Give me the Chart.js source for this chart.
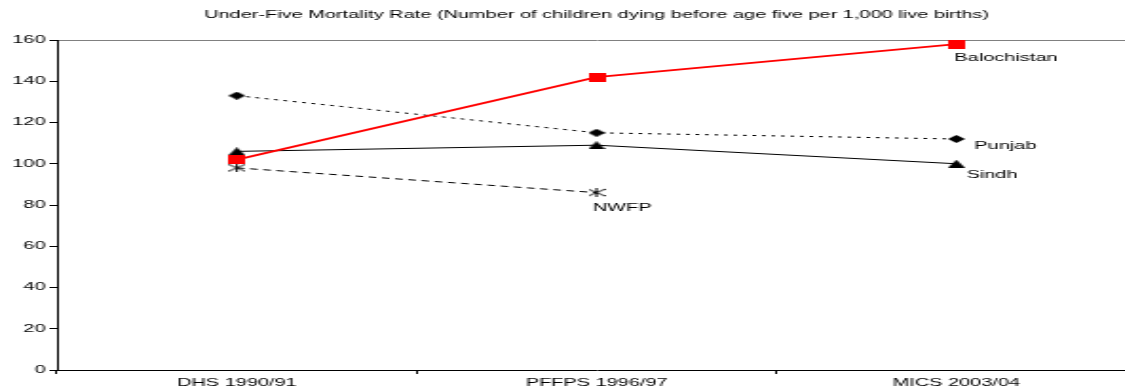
<!DOCTYPE html>
<html>
<head>
<meta charset="utf-8">
<script src="https://cdn.jsdelivr.net/npm/chart.js@4.4.1/dist/chart.umd.min.js"></script>
<style>
  html, body { margin: 0; padding: 0; background: #fff; overflow: hidden; }
  /* the reference picture is stretched sideways, so the chart is drawn narrow and scaled */
  #wrap { width: 604px; height: 391px; transform: scaleX(1.9); transform-origin: 0 0; }
</style>
</head>
<body>
<div id="wrap"><canvas id="myChart" width="604" height="391"></canvas></div>
<script>
// Dados
const categories = ['DHS 1990/91', 'PFFPS 1996/97', 'MICS 2003/04'];
const balochistan = [102, 142, 158];
const punjab = [133, 115, 112];
const sindh = [106, 109, 100];
const nwfp = [98, 86, null];
const seriesNames = ['Balochistan', 'Punjab', 'Sindh', 'NWFP'];
const yMin = 0, yMax = 160, yStep = 20;
const chartTitle = 'Under-Five Mortality Rate (Number of children dying before age five per 1,000 live births)';

// where each name sits: point index, offset from that point
const labelSpots = [
  { idx: 2, dx: -1, dy: 14 },
  { idx: 2, dx: 9.5, dy: 7 },
  { idx: 2, dx: 5.3, dy: 11 },
  { idx: 1, dx: -2, dy: 15 }
];

// marcadores desenhados à mão
function marker(w, h, draw) {
  const c = document.createElement('canvas');
  c.width = w; c.height = h;
  draw(c.getContext('2d'), w, h);
  return c;
}
const squareMk = marker(9, 9, (g, w, h) => { g.fillStyle = '#ff0000'; g.fillRect(0, 0, w, h); });
const diamondMk = marker(9, 8, (g, w, h) => {
  g.fillStyle = '#000'; g.beginPath();
  g.moveTo(w / 2, 0); g.lineTo(w, h / 2); g.lineTo(w / 2, h); g.lineTo(0, h / 2); g.closePath(); g.fill();
});
const triangleMk = marker(9, 8, (g, w, h) => {
  g.fillStyle = '#000'; g.beginPath();
  g.moveTo(w / 2, 0); g.lineTo(w, h); g.lineTo(0, h); g.closePath(); g.fill();
});
const starMk = marker(9, 9, (g, w, h) => {
  g.strokeStyle = '#000'; g.lineWidth = 1; g.beginPath();
  g.moveTo(w / 2, 0); g.lineTo(w / 2, h);
  g.moveTo(0, 1); g.lineTo(w, h - 1);
  g.moveTo(w, 1); g.lineTo(0, h - 1);
  g.stroke();
});

Chart.defaults.font.family = '"Liberation Sans", Arial, sans-serif';
Chart.defaults.font.size = 10.5;
Chart.defaults.color = '#000';

const seriesLabels = {
  id: 'seriesLabels',
  afterDatasetsDraw(chart) {
    const ctx = chart.ctx;
    ctx.save();
    ctx.font = '10.5px "Liberation Sans", Arial, sans-serif';
    ctx.fillStyle = '#000';
    ctx.textAlign = 'left';
    ctx.textBaseline = 'middle';
    labelSpots.forEach((s, i) => {
      const pt = chart.getDatasetMeta(i).data[s.idx];
      ctx.fillText(seriesNames[i], pt.x + s.dx, pt.y + s.dy);
    });
    ctx.restore();
  }
};

const ctx = document.getElementById('myChart');
new Chart(ctx, {
  type: 'line',
  data: {
    labels: categories,
    datasets: [
      { label: seriesNames[0], data: balochistan, borderColor: '#ff0000', borderWidth: 2,
        pointStyle: squareMk },
      { label: seriesNames[1], data: punjab, borderColor: '#000', borderWidth: 1,
        borderDash: [2, 3], pointStyle: diamondMk },
      { label: seriesNames[2], data: sindh, borderColor: '#000', borderWidth: 1,
        pointStyle: triangleMk },
      { label: seriesNames[3], data: nwfp, borderColor: '#000', borderWidth: 1,
        borderDash: [4, 3], pointStyle: starMk }
    ]
  },
  options: {
    responsive: false,
    animation: false,
    devicePixelRatio: 1,
    layout: { padding: { left: 0, right: 2, top: 0, bottom: 0 } },
    elements: { line: { tension: 0, fill: false } },
    plugins: {
      legend: { display: false },
      tooltip: { enabled: false },
      title: {
        display: true,
        text: chartTitle,
        fullSize: false,
        color: '#000',
        font: { size: 10.5, weight: 'normal' },
        padding: { top: 8.7, bottom: 18.7 }
      }
    },
    scales: {
      x: {
        offset: true,
        grid: { offset: true, drawOnChartArea: false, tickLength: 4, tickColor: '#000' },
        border: { color: '#000', width: 1 },
        ticks: { padding: 3, maxRotation: 0, autoSkip: false },
        afterFit: (s) => { s.height = 21; }
      },
      y: {
        min: yMin,
        max: yMax,
        ticks: { stepSize: yStep, padding: 2 },
        grid: {
          tickLength: 4,
          tickColor: '#000',
          color: (c) => (c.tick && c.tick.value === yMax ? '#808080' : 'rgba(0,0,0,0)')
        },
        border: { color: '#000', width: 1 },
        afterFit: (s) => { s.width = 30; }
      }
    }
  },
  plugins: [seriesLabels]
});
</script>
</body>
</html>
